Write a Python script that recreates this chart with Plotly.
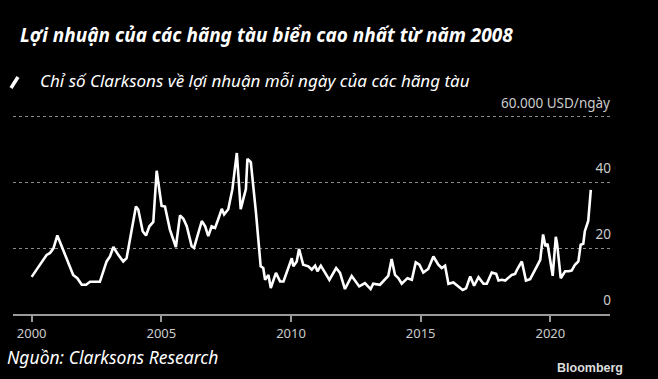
import plotly.graph_objects as go

# Decimal year of each observation
years = [2000.0, 2000.19, 2000.58, 2000.71, 2000.84, 2000.99, 2001.16, 2001.35, 2001.6, 2001.76,
         2001.93, 2002.1, 2002.25, 2002.63, 2002.89, 2003.02, 2003.15, 2003.34, 2003.53, 2003.66,
         2003.86, 2004.02, 2004.11, 2004.28, 2004.41, 2004.54, 2004.69, 2004.82, 2005.01, 2005.14,
         2005.33, 2005.56, 2005.72, 2005.85, 2005.98, 2006.17, 2006.26, 2006.56, 2006.69, 2006.81,
         2006.94, 2007.07, 2007.2, 2007.33, 2007.42, 2007.58, 2007.74, 2007.91, 2008.06, 2008.26,
         2008.32, 2008.45, 2008.65, 2008.78, 2008.83, 2008.93, 2009.0, 2009.13, 2009.22, 2009.42,
         2009.58, 2009.71, 2009.86, 2010.03, 2010.09, 2010.22, 2010.31, 2010.47, 2010.67, 2010.8,
         2010.93, 2011.02, 2011.15, 2011.31, 2011.48, 2011.74, 2011.89, 2012.08, 2012.34, 2012.63,
         2012.85, 2013.07, 2013.17, 2013.43, 2013.62, 2013.75, 2013.88, 2014.01, 2014.14, 2014.27,
         2014.49, 2014.66, 2014.81, 2014.95, 2015.1, 2015.29, 2015.49, 2015.68, 2015.81, 2015.94,
         2016.07, 2016.26, 2016.62, 2016.75, 2016.91, 2017.06, 2017.23, 2017.42, 2017.55, 2017.74,
         2017.91, 2018.0, 2018.13, 2018.26, 2018.51, 2018.64, 2018.73, 2018.9, 2019.06, 2019.22,
         2019.48, 2019.61, 2019.72, 2019.81, 2019.89, 2019.99, 2020.09, 2020.21, 2020.26, 2020.4,
         2020.57, 2020.7, 2020.82, 2020.95, 2021.08, 2021.17, 2021.27, 2021.33, 2021.46, 2021.56]

# Clarksons earnings index, thousand USD/day
earnings = [11.3, 13.5, 18.0, 18.6, 20.0, 23.9, 20.6, 17.0, 11.9, 10.9,
            8.9, 8.9, 9.8, 9.8, 16.0, 17.5, 20.4, 18.0, 16.0, 17.0,
            25.7, 32.7, 31.8, 25.2, 23.9, 26.7, 28.0, 43.6, 32.9, 32.7,
            25.7, 20.4, 30.0, 29.0, 26.7, 20.6, 20.1, 28.3, 26.7, 23.7,
            26.7, 26.2, 29.0, 32.0, 30.3, 31.9, 38.0, 49.0, 31.9, 38.0,
            47.2, 46.2, 30.8, 17.5, 14.5, 14.0, 10.4, 11.9, 7.9, 12.5,
            9.9, 9.9, 13.0, 17.0, 14.5, 16.0, 19.8, 15.0, 14.5, 13.5,
            14.7, 13.0, 14.7, 12.5, 10.4, 14.0, 12.5, 7.6, 11.6, 8.4,
            9.4, 7.6, 9.2, 8.9, 10.4, 11.6, 16.7, 11.9, 10.9, 9.2,
            10.9, 10.4, 15.7, 15.0, 12.6, 13.7, 17.5, 15.0, 14.0, 14.7,
            9.2, 9.6, 7.3, 7.8, 11.4, 8.6, 11.2, 9.2, 9.2, 12.6,
            12.2, 10.2, 10.4, 10.2, 11.9, 12.2, 13.7, 16.0, 10.2, 10.6,
            14.5, 16.5, 24.2, 20.6, 21.4, 17.0, 11.6, 23.5, 21.4, 10.9,
            13.0, 13.0, 13.2, 15.0, 16.0, 21.1, 21.4, 25.2, 28.3, 37.8]

x_tick_vals = [2000, 2005, 2010, 2015, 2020]
x_tick_text = ["2000", "2005", "2010", "2015", "2020"]
y_tick_vals = [0, 20, 40, 60]
y_tick_text = ["0", "20", "40", ""]
y_top_value = 60
y_top_label = "60.000 USD/ngày"

title = "Lợi nhuận của các hãng tàu biển cao nhất từ năm 2008"
subtitle = "Chỉ số Clarksons về lợi nhuận mỗi ngày của các hãng tàu"
source = "Nguồn: Clarksons Research"

FONT = "Noto Sans"

# plot area: x 13..610 px, y 84..314 px
PT, PB = 84, 314
fig = go.Figure()
fig.add_trace(go.Scatter(
    x=years, y=earnings, mode="lines",
    line=dict(color="#ffffff", width=2.6),
    hoverinfo="skip", showlegend=False,
))

fig.update_layout(
    width=658, height=379,
    paper_bgcolor="#000000", plot_bgcolor="#000000",
    margin=dict(l=13, r=48, t=PT, b=379 - PB, autoexpand=False),
    font=dict(family=FONT, color="#cccccc", size=13),
    xaxis=dict(
        range=[1999.28, 2022.3],
        tickvals=x_tick_vals, ticktext=x_tick_text,
        showgrid=False, zeroline=False,
        showline=True, linecolor="#9a9a9a", linewidth=2,
        ticks="outside", ticklen=6, tickwidth=1.5, tickcolor="#9a9a9a",
        tickfont=dict(size=13, color="#cccccc"),
        fixedrange=True,
    ),
    yaxis=dict(
        range=[0, 70],
        side="right",
        tickvals=y_tick_vals, ticktext=y_tick_text,
        ticklabelposition="inside",
        ticklabelshift=-14, ticklabelstandoff=-4,
        showgrid=True, gridcolor="#8a8a8a", griddash="dot", gridwidth=1,
        zeroline=False, showline=False, ticks="",
        tickfont=dict(size=13.5, color="#cccccc"),
        fixedrange=True,
    ),
)

# paper coords relative to plot area
def px(xp):
    return (xp - 13) / 597.0

def py(yp):
    return (PB - yp) / float(PB - PT)

annotations = [
    dict(text="<b><i>" + title + "</i></b>", xref="paper", yref="paper",
         x=px(18), y=py(35), xanchor="left", yanchor="middle", showarrow=False,
         font=dict(family=FONT, size=19, color="#ffffff")),
    dict(text="<i>" + subtitle + "</i>", xref="paper", yref="paper",
         x=px(38), y=py(80), xanchor="left", yanchor="middle", showarrow=False,
         font=dict(family=FONT, size=17, color="#ffffff")),
    dict(text="<i>" + source + "</i>", xref="paper", yref="paper",
         x=px(5), y=py(357), xanchor="left", yanchor="middle", showarrow=False,
         font=dict(family=FONT, size=17.5, color="#ffffff")),
    dict(text="<b>Bloomberg</b>", xref="paper", yref="paper",
         x=px(625), y=py(368), xanchor="right", yanchor="middle", showarrow=False,
         font=dict(family="Liberation Sans", size=12.5, color="#dddddd")),
    dict(text=y_top_label, xref="paper", yref="y",
         x=1.0, y=y_top_value, xanchor="right", yanchor="middle", yshift=14,
         xshift=1, showarrow=False, borderpad=0,
         font=dict(family=FONT, size=13.5, color="#cccccc")),
]
fig.update_layout(annotations=annotations)

fig.add_shape(type="line", xref="paper", yref="paper",
              x0=px(11), y0=py(88), x1=px(18), y1=py(77),
              line=dict(color="#ffffff", width=3.5))

fig.write_html(
    "out.html",
    config={"displayModeBar": False},
    post_script="document.body.style.margin='0';document.body.style.padding='0';document.body.style.background='#000';",
)
